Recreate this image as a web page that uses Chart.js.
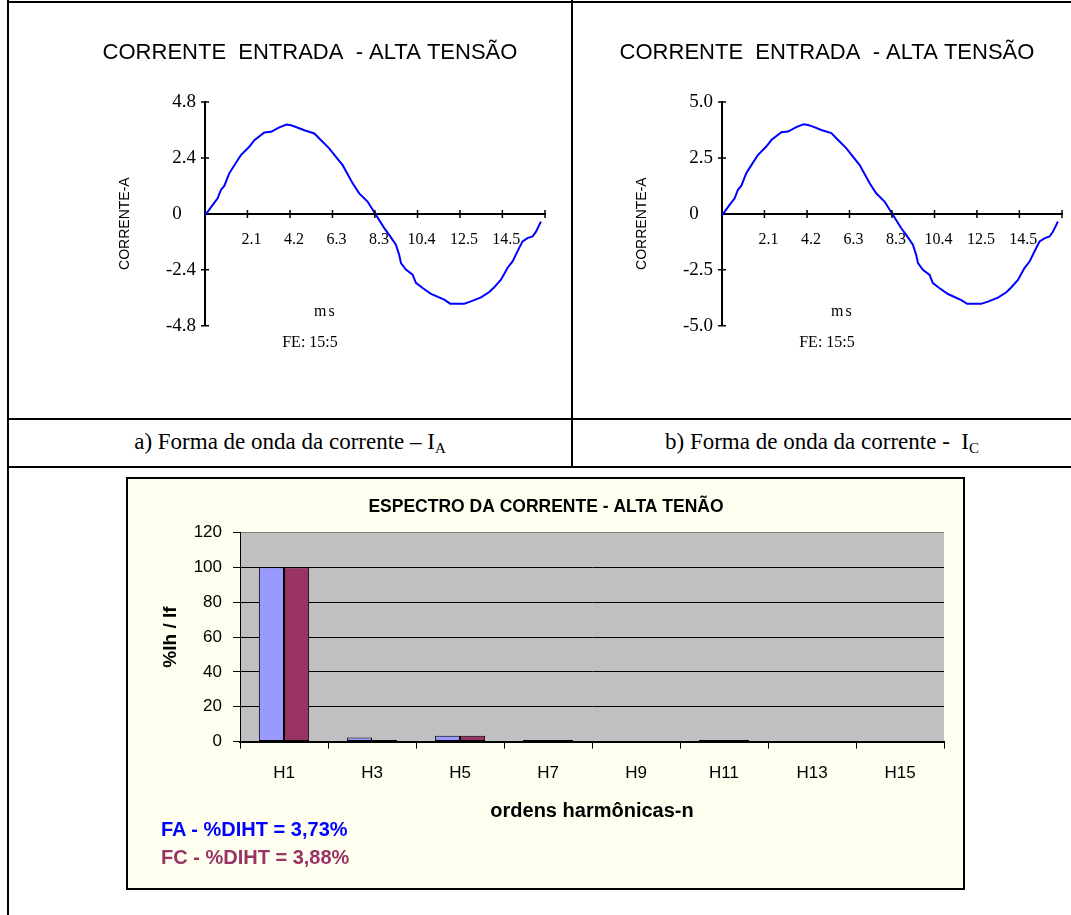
<!DOCTYPE html>
<html lang="pt-BR">
<head>
<meta charset="utf-8">
<title>Corrente de entrada - alta tensão</title>
<script src="https://cdn.jsdelivr.net/npm/chart.js@4.4.1/dist/chart.umd.min.js"></script>
<style>
  body { margin: 0; width: 1071px; height: 915px; background: #fff; position: relative; overflow: hidden;
         font-family: "Liberation Serif", "Times New Roman", serif; }
  .linha { position: absolute; background: #000; }
  .caixa { position: absolute; }
  .legenda { position: absolute; top: 420px; height: 46px; display: flex; align-items: center; justify-content: center;
             font-size: 23px; color: #000; }
  .legenda sub { font-size: 15px; vertical-align: -4px; }
  #quadroEspectro { position: absolute; left: 126px; top: 477px; width: 839px; height: 413px;
                    border: 2px solid #000; box-sizing: border-box; background: #FFFFF0; }
  #quadroEspectro .caixa { left: 0; top: 0; width: 835px; height: 409px; }
  .diht { position: absolute; left: 33px; font: bold 20px Arial, "Liberation Sans", sans-serif; line-height: 22px; }
</style>
</head>
<body>

<!-- Linhas da tabela -->
<div class="linha" style="left:7px; top:1px; width:1064px; height:2px"></div>
<div class="linha" style="left:7px; top:0; width:2px; height:915px"></div>
<div class="linha" style="left:571px; top:0; width:2px; height:468px"></div>
<div class="linha" style="left:7px; top:418px; width:1064px; height:2px"></div>
<div class="linha" style="left:7px; top:466px; width:1064px; height:2px"></div>

<!-- Formas de onda -->
<div class="caixa" style="left:48px; top:3px; width:524px; height:414px"><canvas id="ondaA"></canvas></div>
<div class="caixa" style="left:582px; top:3px; width:489px; height:414px"><canvas id="ondaC"></canvas></div>

<div class="legenda" style="left:9px; width:562px"><span>a) Forma de onda da corrente – I<sub>A</sub></span></div>
<div class="legenda" style="left:573px; width:498px"><span>b) Forma de onda da corrente -&nbsp; I<sub>C</sub></span></div>

<!-- Espectro -->
<div id="quadroEspectro">
  <div class="caixa"><canvas id="graficoEspectro"></canvas></div>
  <div class="diht" style="top:339px; color:#0000FF">FA - %DIHT = 3,73%</div>
  <div class="diht" style="top:367px; color:#993366">FC - %DIHT = 3,88%</div>
</div>

<script>
const tempoMs = [0, 0.37, 0.62, 0.78, 0.95, 1.19, 1.44, 1.76, 2.17, 2.42, 2.91, 3.24, 3.64, 4.0, 4.22, 4.46,
  4.87, 5.36, 5.69, 6.09, 6.42, 6.75, 7.24, 7.56, 7.97, 8.33, 8.79, 9.03, 9.36, 9.52, 9.61, 9.85, 10.18,
  10.34, 10.67, 11.08, 11.73, 12.02, 12.71, 13.04, 13.53, 13.94, 14.18, 14.51, 14.83, 15.08, 15.32, 15.57,
  15.81, 16.06, 16.23, 16.47];

const correnteA = [-0.07, 0.38, 0.67, 1.03, 1.21, 1.74, 2.09, 2.52, 2.88, 3.16, 3.49, 3.52, 3.71, 3.83, 3.80,
  3.73, 3.59, 3.45, 3.16, 2.81, 2.45, 2.09, 1.31, 0.88, 0.53, 0.03, -0.61, -0.90, -1.32, -1.75, -2.11, -2.39,
  -2.61, -2.96, -3.18, -3.43, -3.68, -3.85, -3.85, -3.75, -3.58, -3.35, -3.15, -2.82, -2.32, -2.04, -1.61,
  -1.18, -1.04, -0.97, -0.76, -0.33];

const correnteC = [-0.07, 0.40, 0.70, 1.08, 1.26, 1.82, 2.18, 2.63, 3.01, 3.30, 3.65, 3.68, 3.88, 4.00, 3.97,
  3.90, 3.75, 3.61, 3.30, 2.94, 2.56, 2.18, 1.37, 0.92, 0.55, 0.03, -0.64, -0.94, -1.38, -1.83, -2.20, -2.50,
  -2.73, -3.09, -3.32, -3.58, -3.85, -4.02, -4.02, -3.92, -3.74, -3.50, -3.29, -2.95, -2.42, -2.13, -1.68,
  -1.23, -1.09, -1.01, -0.79, -0.34];

// Eixos das formas de onda
const ticksX = [0, 2.08, 4.17, 6.25, 8.33, 10.42, 12.5, 14.58, 16.67];
const rotulosX = ['', '2.1', '4.2', '6.3', '8.3', '10.4', '12.5', '14.5', ''];
const ticksYA = [-4.8, -2.4, 0, 2.4, 4.8];
const rotulosYA = ['-4.8', '-2.4', '0', '2.4', '4.8'];
const ticksYC = [-5, -2.5, 0, 2.5, 5];
const rotulosYC = ['-5.0', '-2.5', '0', '2.5', '5.0'];

// Espectro harmônico (% Ih / If)
const ordens = ['H1', 'H3', 'H5', 'H7', 'H9', 'H11', 'H13', 'H15'];
const espectroFA = [100, 2.3, 3.3, 0.9, 0, 0.9, 0, 0];
const espectroFC = [100, 0.9, 3.3, 0.9, 0, 0.9, 0, 0];

const ARIAL = 'Arial, "Liberation Sans", sans-serif';
const TIMES = '"Liberation Serif", "Times New Roman", serif';
Chart.defaults.font.family = ARIAL;
Chart.defaults.color = '#000';

// Marcas cruzando os eixos e rótulo "ms"
const eixosCruzados = {
  id: 'eixosCruzados',
  afterDraw(chart, args, opts) {
    const { ctx, scales: { x, y } } = chart;
    const y0 = y.getPixelForValue(0);
    ctx.save();
    ctx.strokeStyle = '#000';
    ctx.lineWidth = 1.5;
    ctx.beginPath();
    x.ticks.forEach(t => {
      if (t.value === 0) return;
      const px = x.getPixelForValue(t.value);
      ctx.moveTo(px, y0 - 4);
      ctx.lineTo(px, y0 + 4);
    });
    y.ticks.forEach(t => {
      if (t.value === 0) return;
      const py = y.getPixelForValue(t.value);
      ctx.moveTo(y.right - 4, py);
      ctx.lineTo(y.right + 4, py);
    });
    ctx.stroke();
    ctx.fillStyle = '#000';
    ctx.font = '16px ' + TIMES;
    if ('letterSpacing' in ctx) ctx.letterSpacing = '2px';
    ctx.textAlign = 'center';
    ctx.textBaseline = 'middle';
    ctx.fillText('ms', x.getPixelForValue(opts.msX), y.getPixelForValue(opts.msY));
    ctx.restore();
  }
};

function criarOnda(id, valores, ticksY, rotulosY, padEsq, padDir, msY) {
  const pontos = tempoMs.map((t, i) => ({ x: t, y: valores[i] }));
  return new Chart(document.getElementById(id), {
    type: 'line',
    data: {
      datasets: [{
        data: pontos,
        borderColor: '#0000FF',
        borderWidth: 2,
        pointRadius: 0,
        tension: 0
      }]
    },
    options: {
      responsive: true,
      maintainAspectRatio: false,
      animation: false,
      layout: { padding: { left: padEsq, right: padDir, top: 0, bottom: 65 } },
      plugins: {
        legend: { display: false },
        tooltip: { enabled: false },
        title: {
          display: true,
          text: 'CORRENTE  ENTRADA  - ALTA TENSÃO',
          color: '#000',
          font: { family: ARIAL, size: 22, weight: 'normal' },
          padding: { top: 37, bottom: 35.6 }
        },
        subtitle: {
          display: true,
          position: 'bottom',
          text: 'FE: 15:5',
          color: '#000',
          font: { family: TIMES, size: 16 },
          padding: { top: 7, bottom: 0 }
        },
        eixosCruzados: { msX: 5.9, msY: msY }
      },
      scales: {
        x: {
          type: 'linear',
          position: { y: 0 },
          min: 0,
          max: 16.67,
          afterBuildTicks: s => { s.ticks = ticksX.map(v => ({ value: v })); },
          ticks: {
            autoSkip: false,
            maxRotation: 0,
            callback: (v, i) => rotulosX[i],
            font: { family: TIMES, size: 16 },
            padding: 8,
            labelOffset: 4
          },
          grid: { display: false },
          border: { color: '#000', width: 2 }
        },
        y: {
          type: 'linear',
          min: ticksY[0],
          max: ticksY[ticksY.length - 1],
          afterBuildTicks: s => { s.ticks = ticksY.map(v => ({ value: v })); },
          afterFit: s => { s.width = 130; },
          ticks: {
            callback: (v, i) => rotulosY[i] === '0' ? '0   ' : rotulosY[i],
            font: { family: TIMES, size: 19 },
            padding: 1
          },
          grid: { display: false },
          border: { color: '#000', width: 2 },
          title: {
            display: true,
            text: 'CORRENTE-A     ',
            color: '#000',
            font: { family: ARIAL, size: 14 },
            padding: { top: 41.6, bottom: 0 }
          }
        }
      }
    },
    plugins: [eixosCruzados]
  });
}

criarOnda('ondaA', correnteA, ticksYA, rotulosYA, 27, 27, -4.2);
criarOnda('ondaC', correnteC, ticksYC, rotulosYC, 10, 9, -4.36);

// Fundo cinza da área de plotagem
const fundoPlotagem = {
  id: 'fundoPlotagem',
  beforeDraw(chart) {
    const { ctx, chartArea: a } = chart;
    ctx.save();
    ctx.fillStyle = '#C0C0C0';
    ctx.fillRect(a.left, a.top, a.right - a.left, a.bottom - a.top);
    ctx.restore();
  }
};

new Chart(document.getElementById('graficoEspectro'), {
  type: 'bar',
  data: {
    labels: ordens,
    datasets: [
      {
        label: 'FA',
        data: espectroFA,
        backgroundColor: '#9999FF',
        borderColor: '#000',
        borderWidth: 1,
        borderSkipped: false,
        categoryPercentage: 0.571,
        barPercentage: 1
      },
      {
        label: 'FC',
        data: espectroFC,
        backgroundColor: '#993366',
        borderColor: '#000',
        borderWidth: 1,
        borderSkipped: false,
        categoryPercentage: 0.571,
        barPercentage: 1
      }
    ]
  },
  options: {
    responsive: true,
    maintainAspectRatio: false,
    animation: false,
    layout: { padding: { left: 20, right: 19, top: 0, bottom: 65 } },
    plugins: {
      legend: { display: false },
      tooltip: { enabled: false },
      title: {
        display: true,
        text: 'ESPECTRO DA CORRENTE - ALTA TENÃO',
        color: '#000',
        font: { size: 17.5, weight: 'bold' },
        padding: { top: 18, bottom: 14.5 }
      }
    },
    scales: {
      x: {
        grid: { drawOnChartArea: false, drawTicks: true, tickLength: 7, color: '#000', lineWidth: 1 },
        border: { color: '#000', width: 2 },
        ticks: { font: { size: 17 }, padding: 15 },
        title: {
          display: true,
          text: 'ordens harmônicas-n',
          color: '#000',
          font: { size: 20, weight: 'bold' },
          padding: { top: 0, bottom: 0 }
        }
      },
      y: {
        min: 0,
        max: 120,
        afterFit: s => { s.width = 92; },
        ticks: { stepSize: 20, font: { size: 17 }, padding: 11 },
        grid: {
          color: c => (c.tick && c.tick.value === 120) ? '#808080' : '#000',
          tickColor: '#000',
          tickLength: 7,
          lineWidth: 1
        },
        border: { color: '#000', width: 1 },
        title: {
          display: true,
          text: '%Ih / If',
          color: '#000',
          font: { size: 19, weight: 'bold' },
          padding: { top: 11, bottom: 0 }
        }
      }
    }
  },
  plugins: [fundoPlotagem]
});
</script>
</body>
</html>
